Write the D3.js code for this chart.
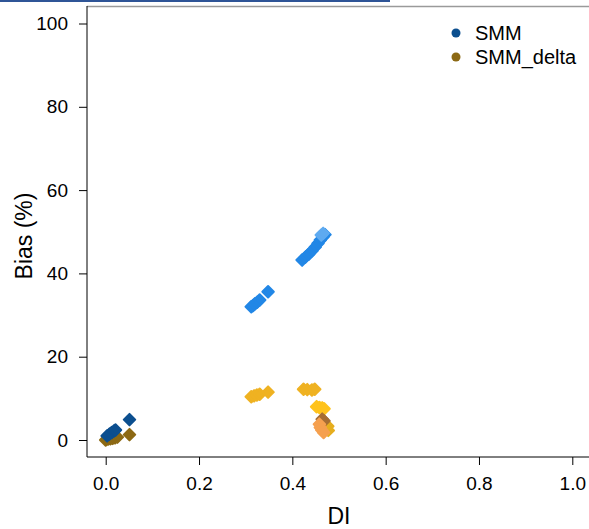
<!DOCTYPE html>
<html>
<head>
<meta charset="utf-8">
<script src="https://cdn.jsdelivr.net/npm/d3@7"></script>
<style>
body { margin: 0; background: #fff; }
svg { display: block; font-family: "Liberation Sans", Arial, sans-serif; }
</style>
</head>
<body>
<svg id="chart" width="589" height="529"></svg>
<script>
// values
const xTicks = [0, 0.2, 0.4, 0.6, 0.8, 1.0]
const yTicks = [0, 20, 40, 60, 80, 100]

const legendNames = ["SMM", "SMM_delta"]
const legendColors = ["#0c4f8f", "#8c6914"]

// [DI, Bias]
const smm = [[0.003, 1.0], [0.008, 1.4], [0.013, 1.8], [0.018, 2.2], [0.021, 2.4], [0.051, 4.9]]
const smmDelta = [[0.0, 0.0], [0.005, 0.2], [0.01, 0.3], [0.015, 0.4], [0.02, 0.5], [0.025, 0.7], [0.051, 1.3]]

const blue = [
    [0.312, 32.0], [0.316, 32.3], [0.32, 32.7], [0.325, 33.1], [0.33, 33.6], [0.348, 35.6],
    [0.421, 43.2], [0.428, 43.9], [0.435, 44.6], [0.442, 45.4], [0.449, 46.3],
    [0.455, 47.2], [0.46, 48.0], [0.466, 48.8], [0.47, 49.3]
]
const lightBlue = [[0.462, 49.2], [0.466, 49.6]]
const gold = [
    [0.312, 10.4], [0.318, 10.6], [0.324, 10.8], [0.33, 11.0], [0.348, 11.5],
    [0.424, 12.2], [0.432, 12.1], [0.442, 12.0], [0.448, 12.2]
]
const yellow = [[0.452, 8.0], [0.458, 7.8], [0.464, 7.7], [0.468, 7.5]]
const darkYellow = [[0.477, 2.3], [0.476, 3.3]]
const brown = [[0.464, 5.0], [0.468, 4.6]]
const orange = [[0.458, 3.8], [0.46, 3.0], [0.463, 2.4], [0.467, 1.8]]

const groups = [
    { data: smmDelta, color: "#8c6914" },
    { data: smm, color: "#0c4f8f" },
    { data: blue, color: "#2287e6" },
    { data: lightBlue, color: "#5eaaf0" },
    { data: gold, color: "#efb222" },
    { data: yellow, color: "#ffc31c" },
    { data: darkYellow, color: "#e6ae1e" },
    { data: brown, color: "#a66d33" },
    { data: orange, color: "#f5a04f" }
]

const svg = d3.select("#chart")

// page decoration above the plot
svg.append("rect").attr("x", 0).attr("y", 0).attr("width", 390).attr("height", 2).attr("fill", "#2f5597")

const axisLeftX = 87
const axisBottomY = 457

const x = d3.scaleLinear().domain([0, 1]).range([105.7, 572.3])
const y = d3.scaleLinear().domain([0, 100]).range([440, 23.5])

// box (bty = "l" plus the faint top rule)
svg.append("line")
    .attr("x1", axisLeftX).attr("x2", 589)
    .attr("y1", 6.5).attr("y2", 6.5)
    .attr("stroke", "#9a9a9a").attr("stroke-width", 1.5)
svg.append("line")
    .attr("x1", axisLeftX).attr("x2", axisLeftX)
    .attr("y1", 6).attr("y2", axisBottomY)
    .attr("stroke", "#000").attr("stroke-width", 1)
svg.append("line")
    .attr("x1", axisLeftX).attr("x2", 589)
    .attr("y1", axisBottomY).attr("y2", axisBottomY)
    .attr("stroke", "#000").attr("stroke-width", 1)

const gy = svg.append("g")
    .attr("transform", `translate(${axisLeftX},0)`)
    .call(d3.axisLeft(y).tickValues(yTicks).tickSize(8).tickPadding(11).tickFormat(d3.format("d")))
gy.select(".domain").remove()
gy.selectAll("text").attr("font-size", 19).attr("fill", "#000").attr("font-family", null)

const gx = svg.append("g")
    .attr("transform", `translate(0,${axisBottomY})`)
    .call(d3.axisBottom(x).tickValues(xTicks).tickSize(8).tickFormat(d3.format(".1f")))
gx.select(".domain").remove()
gx.selectAll("text")
    .attr("font-size", 19).attr("fill", "#000").attr("font-family", null)
    .attr("y", 33).attr("dy", 0)

svg.append("text")
    .attr("x", x(0.5)).attr("y", 524)
    .attr("text-anchor", "middle").attr("font-size", 23)
    .text("DI")

svg.append("text")
    .attr("transform", "translate(32,236) rotate(-90)")
    .attr("text-anchor", "middle").attr("font-size", 23)
    .text("Bias (%)")

// points: filled diamonds with soft corners
const diamond = d3.symbol().type(d3.symbolSquare).size(66)

groups.forEach(g => {
    svg.append("g")
        .selectAll("path")
        .data(g.data)
        .join("path")
        .attr("d", diamond)
        .attr("transform", d => `translate(${x(d[0])},${y(d[1])}) rotate(45)`)
        .attr("fill", g.color)
        .attr("stroke", g.color)
        .attr("stroke-width", 2)
        .attr("stroke-linejoin", "round")
})

// legend
const legend = svg.append("g").attr("transform", "translate(456,33)")
legend.selectAll("circle")
    .data(legendNames)
    .join("circle")
    .attr("cx", 0)
    .attr("cy", (d, i) => i * 24)
    .attr("r", 4.5)
    .attr("fill", (d, i) => legendColors[i])
legend.selectAll("text")
    .data(legendNames)
    .join("text")
    .attr("x", 19)
    .attr("y", (d, i) => i * 24)
    .attr("dy", "0.36em")
    .attr("font-size", 20)
    .text(d => d)
</script>
</body>
</html>
